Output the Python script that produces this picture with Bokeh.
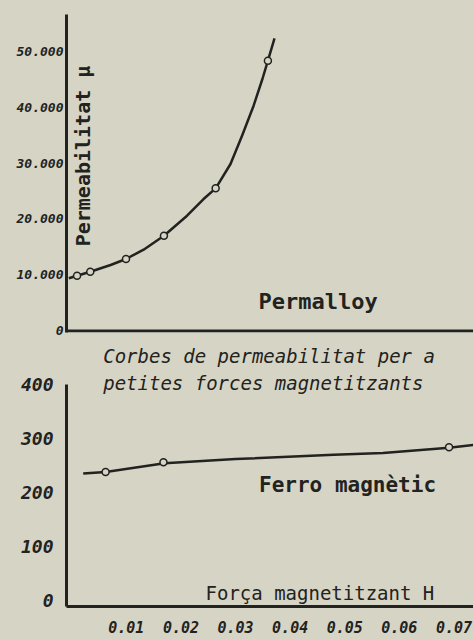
import math
from bokeh.plotting import figure
from bokeh.layouts import column
from bokeh.models import Label, FixedTicker, Range1d, Span
from bokeh.embed import file_html
from bokeh.resources import INLINE

# ---- data ----
# Permalloy: drawn curve and measured points
perm_curve_H = [0.0, 0.0015, 0.0039, 0.0076, 0.0104, 0.0136, 0.0173, 0.0215, 0.0245,
                0.0267, 0.0294, 0.0315, 0.0336, 0.0352, 0.0362, 0.0374]
perm_curve_mu = [9410, 9875, 10590, 11790, 12860, 14520, 17020, 20590, 23570,
                 25480, 29820, 34880, 40230, 45000, 48270, 52270]
perm_pts_H = [0.0015, 0.0039, 0.0104, 0.0173, 0.0267, 0.0362]
perm_pts_mu = [9875, 10590, 12860, 17020, 25480, 48270]

# Ferro magnètic: drawn line and measured points
ferro_curve_H = [0.0021, 0.0062, 0.0170, 0.0300, 0.0480, 0.0570, 0.0691, 0.0736]
ferro_curve_mu = [235, 238, 254, 262, 270, 273, 283, 288]
ferro_pts_H = [0.0062, 0.0168, 0.0691]
ferro_pts_mu = [238, 256, 284]

top_ticks = [0, 10000, 20000, 30000, 40000, 50000]
top_tick_labels = ["0", "10.000", "20.000", "30.000", "40.000", "50.000"]
bot_ticks = [0, 100, 200, 300, 400]
bot_tick_labels = ["0", "100", "200", "300", "400"]
x_ticks = [0.01, 0.02, 0.03, 0.04, 0.05, 0.06, 0.07]
x_tick_labels = ["0.01", "0.02", "0.03", "0.04", "0.05", "0.06", "0.07"]

PAPER = "#d6d4c4"
INK = "#222220"
MONO = "DejaVu Sans Mono"


def style(p):
    p.background_fill_color = PAPER
    p.border_fill_color = PAPER
    p.outline_line_color = None
    p.grid.visible = False
    for ax in (p.xaxis[0], p.yaxis[0]):
        ax.axis_line_color = INK
        ax.axis_line_width = 3
        ax.major_tick_out = 0
        ax.major_tick_in = 0
        ax.minor_tick_out = 0
        ax.minor_tick_in = 0
        ax.major_label_text_color = INK
        ax.major_label_text_font = MONO
        ax.major_label_text_font_style = "bold italic"


# ---- top panel: Permalloy ----
top = figure(width=473, height=340, output_backend="svg", toolbar_location=None,
             x_range=Range1d(-0.00042, 0.07358), y_range=Range1d(-268, 59018),
             min_border_left=66, min_border_right=0, min_border_top=0, min_border_bottom=8)
style(top)
top.xaxis.visible = False
top.yaxis.ticker = FixedTicker(ticks=top_ticks)
top.yaxis.major_label_overrides = {t: l for t, l in zip(top_ticks, top_tick_labels)}
top.yaxis.major_label_text_font_size = "13px"
top.yaxis.major_label_standoff = 3
top.yaxis.bounds = (-268, 56600)
# baseline of the upper panel (H axis)
top.add_layout(Span(location=0, dimension="width", line_color=INK, line_width=3))

top.line(perm_curve_H, perm_curve_mu, line_color=INK, line_width=2.5, line_join="round")
top.scatter(perm_pts_H, perm_pts_mu, marker="circle", size=7, fill_color=PAPER,
            line_color=INK, line_width=1.5)

top.add_layout(Label(x=0.0025, y=31250, text="Permeabilitat μ", angle=math.pi / 2,
                     text_align="center", text_baseline="middle", text_font=MONO,
                     text_font_size="20px", text_font_style="bold", text_color=INK))
top.add_layout(Label(x=0.0345, y=5357, text="Permalloy", text_align="left",
                     text_baseline="middle", text_font=MONO, text_font_size="22px",
                     text_font_style="bold", text_color=INK))

# ---- bottom panel: Ferro magnètic ----
bot = figure(width=473, height=299, output_backend="svg", toolbar_location=None,
             x_range=Range1d(-0.00096, 0.07358), y_range=Range1d(-11.1, 481.5),
             min_border_left=63, min_border_right=0, min_border_top=0, min_border_bottom=33)
style(bot)
bot.xaxis.ticker = FixedTicker(ticks=x_ticks)
bot.xaxis.major_label_overrides = {t: l for t, l in zip(x_ticks, x_tick_labels)}
bot.xaxis.major_label_text_font_size = "15px"
bot.xaxis.major_label_standoff = 14
bot.yaxis.ticker = FixedTicker(ticks=bot_ticks)
bot.yaxis.major_label_overrides = {t: l for t, l in zip(bot_ticks, bot_tick_labels)}
bot.yaxis.major_label_text_font_size = "18px"
bot.yaxis.major_label_standoff = 13
bot.yaxis.bounds = (-11.1, 400)

bot.line(ferro_curve_H, ferro_curve_mu, line_color=INK, line_width=2.5, line_join="round")
bot.scatter(ferro_pts_H, ferro_pts_mu, marker="circle", size=7, fill_color=PAPER,
            line_color=INK, line_width=1.5)

bot.add_layout(Label(x=0.00576, y=453.7, text="Corbes de permeabilitat per a",
                     text_align="left", text_baseline="middle", text_font=MONO,
                     text_font_size="19px", text_font_style="italic", text_color=INK))
bot.add_layout(Label(x=0.00576, y=401.9, text="petites forces magnetitzants",
                     text_align="left", text_baseline="middle", text_font=MONO,
                     text_font_size="19px", text_font_style="italic", text_color=INK))
bot.add_layout(Label(x=0.0343, y=213, text="Ferro magnètic", text_align="left",
                     text_baseline="middle", text_font=MONO, text_font_size="21px",
                     text_font_style="bold", text_color=INK))
bot.add_layout(Label(x=0.0245, y=13, text="Força magnetitzant H", text_align="left",
                     text_baseline="middle", text_font=MONO, text_font_size="19px",
                     text_color=INK))

layout = column(top, bot, spacing=0, styles={"background-color": PAPER})
open("out.html", "w").write(file_html(layout, INLINE))
